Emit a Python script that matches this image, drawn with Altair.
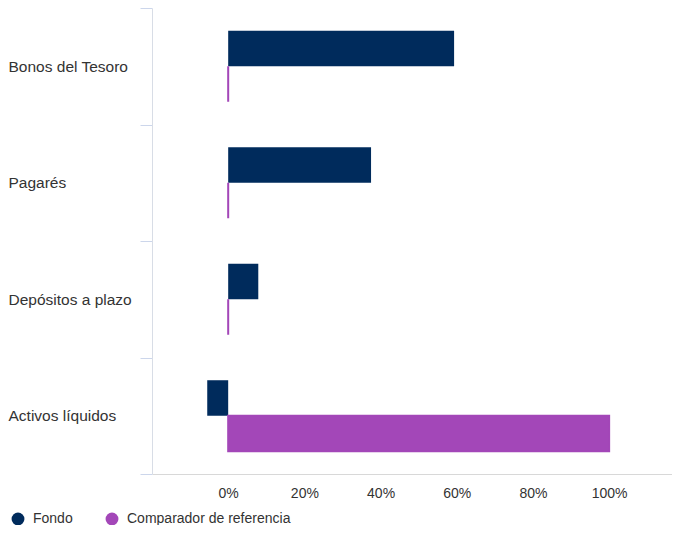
import altair as alt
import pandas as pd

categorias = ["Bonos del Tesoro", "Pagarés", "Depósitos a plazo", "Activos líquidos"]
series = ["Fondo", "Comparador de referencia"]
fondo = [59.3, 37.5, 7.9, -5.5]
comparador = [0.0, 0.0, 0.0, 100.0]
colores = ["#002B5C", "#A347B8"]
ticks_x = [0, 20, 40, 60, 80, 100]

rows = []
for c, f, b in zip(categorias, fondo, comparador):
    rows.append({"categoria": c, "serie": series[0], "valor": f})
    rows.append({"categoria": c, "serie": series[1], "valor": b})
df = pd.DataFrame(rows)

color_scale = alt.Scale(domain=series, range=colores)

chart = alt.Chart(df).mark_bar().encode(
    y=alt.Y("categoria:N", sort=categorias, title=None,
            scale=alt.Scale(paddingInner=0, paddingOuter=0),
            axis=alt.Axis(labelAlign="left", labelPadding=132, tickSize=12,
                          tickBand="extent", labelLimit=150,
                          labelFont="Liberation Sans", labelFontSize=15.5,
                          labelColor="#333333", domainColor="#d8dde6",
                          tickColor="#ccd6eb", grid=False)),
    yOffset=alt.YOffset("serie:N", sort=series,
                        scale=alt.Scale(paddingInner=0, paddingOuter=0.64)),
    x=alt.X("valor:Q", title=None,
            scale=alt.Scale(domain=[-20, 116.5], nice=False, zero=False),
            axis=alt.Axis(values=ticks_x, labelExpr="datum.value + '%'",
                          ticks=False, labelPadding=12, grid=False,
                          labelFont="Liberation Sans", labelFontSize=14,
                          labelColor="#333333", domainColor="#d8d8d8",
                          labelFlush=False)),
    color=alt.Color("serie:N", scale=color_scale, sort=series,
                    legend=alt.Legend(title=None, orient="none", direction="horizontal",
                                      legendX=-141, legendY=504,
                                      symbolType="circle", symbolSize=165,
                                      symbolStrokeWidth=0, labelLimit=300,
                                      labelFont="Liberation Sans", labelFontSize=14,
                                      labelColor="#333333", columnPadding=32,
                                      labelOffset=8)),
    stroke=alt.Color("serie:N", scale=color_scale, sort=series, legend=None),
    strokeWidth=alt.condition(alt.datum.serie == series[1], alt.value(2), alt.value(0)),
).properties(
    width=520, height=466,
    autosize=alt.AutoSizeParams(type="none"),
    padding={"left": 144, "top": 0, "right": 0, "bottom": 51},
).configure(background="white").configure_view(stroke=None)

chart.save("out.html", embed_options={"renderer": "svg", "actions": False})
